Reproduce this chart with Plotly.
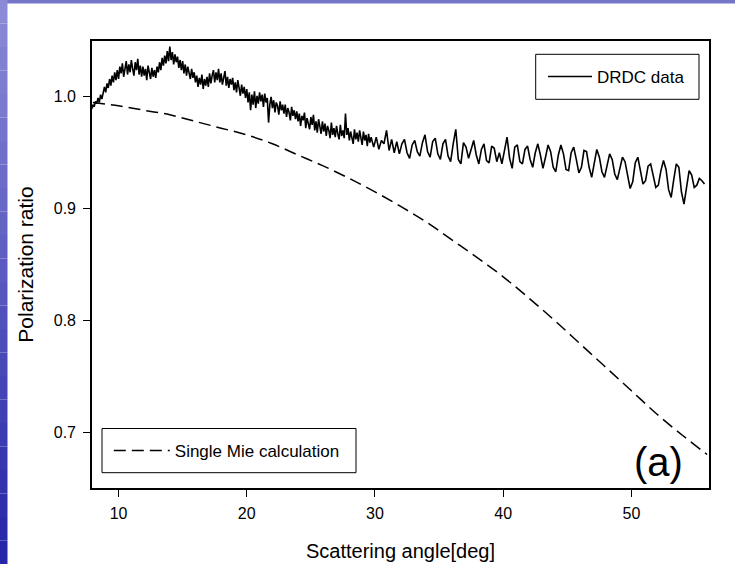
import plotly.graph_objects as go

# ---------------- data ----------------
# DRDC measurement, low-angle part (dense sampling)
drdc_angle_low = [
    7.9, 8.0, 8.1, 8.2, 8.3, 8.4, 8.5, 8.6, 8.7, 8.8,
    8.9, 9.0, 9.1, 9.2, 9.3, 9.4, 9.5, 9.6, 9.7, 9.8,
    9.9, 10.0, 10.1, 10.2, 10.3, 10.4, 10.5, 10.6, 10.7, 10.8,
    10.9, 11.0, 11.1, 11.2, 11.3, 11.4, 11.5, 11.6, 11.7, 11.8,
    11.9, 12.0, 12.1, 12.2, 12.3, 12.4, 12.5, 12.6, 12.7, 12.8,
    12.9, 13.0, 13.1, 13.2, 13.3, 13.4, 13.5, 13.6, 13.7, 13.8,
    13.9, 14.0, 14.1, 14.2, 14.3, 14.4, 14.5, 14.6, 14.7, 14.8,
    14.9, 15.0, 15.1, 15.2, 15.3, 15.4, 15.5, 15.6, 15.7, 15.8,
    15.9, 16.0, 16.1, 16.2, 16.3, 16.4, 16.5, 16.6, 16.7, 16.8,
    16.9, 17.0, 17.1, 17.2, 17.3, 17.4, 17.5, 17.6, 17.7, 17.8,
    17.9, 18.0, 18.1, 18.2, 18.3, 18.4, 18.5, 18.6, 18.7, 18.8,
    18.9, 19.0, 19.1, 19.2, 19.3, 19.4, 19.5, 19.6, 19.7, 19.8,
    19.9, 20.0, 20.1, 20.2, 20.3, 20.4, 20.5, 20.6, 20.7, 20.8,
    20.9, 21.0, 21.1, 21.2, 21.3, 21.4, 21.5, 21.6, 21.7, 21.8,
    21.9, 22.0, 22.1, 22.2, 22.3, 22.4, 22.5, 22.6, 22.7, 22.8,
    22.9, 23.0, 23.1, 23.2, 23.3, 23.4, 23.5, 23.6, 23.7, 23.8,
    23.9, 24.0, 24.1, 24.2, 24.3, 24.4, 24.5, 24.6, 24.7, 24.8,
    24.9, 25.0, 25.1, 25.2, 25.3, 25.4, 25.5, 25.6, 25.7, 25.8,
    25.9, 26.0, 26.1, 26.2, 26.3, 26.4, 26.5, 26.6, 26.7, 26.8,
    26.9, 27.0, 27.1, 27.2, 27.3, 27.4, 27.5, 27.6, 27.7, 27.8,
    27.9, 28.0, 28.1, 28.2, 28.3, 28.4, 28.5, 28.6, 28.7, 28.8,
    28.9, 29.0, 29.1, 29.2, 29.3, 29.4, 29.5, 29.6, 29.7, 29.8,
]
drdc_ratio_low = [
    0.989, 0.993, 0.991, 0.996, 0.994, 0.999, 0.995, 1.002, 0.998, 1.004,
    1.009, 1.004, 1.012, 1.008, 1.016, 1.010, 1.019, 1.013, 1.022, 1.015,
    1.024, 1.016, 1.027, 1.021, 1.030, 1.018, 1.026, 1.032, 1.020, 1.029,
    1.022, 1.033, 1.025, 1.019, 1.031, 1.024, 1.034, 1.020, 1.028, 1.018,
    1.027, 1.019, 1.025, 1.015, 1.028, 1.021, 1.016, 1.026, 1.018, 1.024,
    1.017, 1.027, 1.022, 1.031, 1.024, 1.035, 1.028, 1.037, 1.030, 1.041,
    1.032, 1.045, 1.033, 1.040, 1.029, 1.038, 1.031, 1.036, 1.026, 1.033,
    1.024, 1.032, 1.021, 1.029, 1.019, 1.027, 1.022, 1.016, 1.025, 1.017,
    1.022, 1.013, 1.019, 1.009, 1.017, 1.011, 1.020, 1.007, 1.016, 1.010,
    1.018, 1.009, 1.021, 1.012, 1.019, 1.024, 1.013, 1.022, 1.015, 1.025,
    1.013, 1.021, 1.011, 1.019, 1.023, 1.010, 1.018, 1.008, 1.016, 1.011,
    1.017, 1.006, 1.013, 1.004, 1.015, 1.008, 1.001, 1.011, 1.003, 1.009,
    0.999, 1.007, 0.995, 1.004, 0.988, 1.002, 0.993, 1.005, 0.990, 1.001,
    0.994, 1.004, 0.996, 1.002, 0.991, 1.003, 0.995, 0.999, 0.977, 0.993,
    1.000, 0.990, 0.997, 0.986, 0.995, 0.992, 0.984, 0.996, 0.988, 0.993,
    0.985, 0.993, 0.982, 0.990, 0.986, 0.979, 0.991, 0.983, 0.988, 0.980,
    0.987, 0.978, 0.985, 0.974, 0.983, 0.979, 0.986, 0.972, 0.981, 0.976,
    0.971, 0.982, 0.975, 0.984, 0.970, 0.978, 0.968, 0.980, 0.973, 0.967,
    0.978, 0.969, 0.976, 0.965, 0.974, 0.970, 0.963, 0.977, 0.966, 0.972,
    0.964, 0.974, 0.967, 0.962, 0.975, 0.965, 0.970, 0.963, 0.985, 0.966,
    0.972, 0.961, 0.969, 0.964, 0.958, 0.971, 0.962, 0.968, 0.960, 0.970,
    0.963, 0.957, 0.969, 0.961, 0.966, 0.956, 0.967, 0.959, 0.964, 0.958,
]

# DRDC measurement, high-angle part (oscillating)
drdc_angle_high = [
    29.9, 30.1, 30.3, 30.5, 30.7, 30.9, 31.1, 31.3, 31.5, 31.7,
    31.9, 32.1, 32.3, 32.5, 32.7, 32.9, 33.1, 33.3, 33.5, 33.7,
    33.9, 34.1, 34.3, 34.5, 34.7, 34.9, 35.1, 35.3, 35.5, 35.7,
    35.9, 36.1, 36.3, 36.5, 36.7, 36.9, 37.1, 37.3, 37.5, 37.7,
    37.9, 38.1, 38.3, 38.5, 38.7, 38.9, 39.1, 39.3, 39.5, 39.7,
    39.9, 40.1, 40.3, 40.5, 40.7, 40.9, 41.1, 41.3, 41.5, 41.7,
    41.9, 42.1, 42.3, 42.5, 42.7, 42.9, 43.1, 43.3, 43.5, 43.7,
    43.9, 44.1, 44.3, 44.5, 44.7, 44.9, 45.1, 45.3, 45.5, 45.7,
    45.9, 46.1, 46.3, 46.5, 46.7, 46.9, 47.1, 47.3, 47.5, 47.7,
    47.9, 48.1, 48.3, 48.5, 48.7, 48.9, 49.1, 49.3, 49.5, 49.7,
    49.9, 50.1, 50.3, 50.5, 50.7, 50.9, 51.1, 51.3, 51.5, 51.7,
    51.9, 52.1, 52.3, 52.5, 52.7, 52.9, 53.1, 53.3, 53.5, 53.7,
    53.9, 54.1, 54.3, 54.5, 54.7, 54.9, 55.1, 55.3, 55.5, 55.7,
]
drdc_ratio_high = [
    0.955, 0.964, 0.953, 0.961, 0.958, 0.970, 0.952, 0.962, 0.950, 0.960,
    0.949, 0.958, 0.962, 0.950, 0.945, 0.957, 0.961, 0.951, 0.947, 0.959,
    0.966, 0.951, 0.946, 0.960, 0.963, 0.949, 0.944, 0.958, 0.962, 0.947,
    0.942, 0.958, 0.971, 0.944, 0.940, 0.959, 0.955, 0.945, 0.952, 0.961,
    0.948, 0.940, 0.953, 0.958, 0.943, 0.941, 0.956, 0.954, 0.942, 0.950,
    0.940, 0.952, 0.964, 0.945, 0.936, 0.955, 0.957, 0.942, 0.940, 0.953,
    0.956, 0.944, 0.937, 0.950, 0.958, 0.948, 0.936, 0.946, 0.957, 0.951,
    0.937, 0.933, 0.948, 0.957, 0.949, 0.935, 0.934, 0.950, 0.955, 0.944,
    0.932, 0.937, 0.952, 0.951, 0.937, 0.928, 0.941, 0.953, 0.946, 0.933,
    0.928, 0.940, 0.949, 0.944, 0.931, 0.926, 0.937, 0.946, 0.942, 0.930,
    0.918, 0.924, 0.941, 0.946, 0.935, 0.922, 0.925, 0.938, 0.940, 0.929,
    0.919, 0.921, 0.934, 0.943, 0.935, 0.917, 0.910, 0.926, 0.940, 0.937,
    0.915, 0.904, 0.918, 0.934, 0.930, 0.919, 0.921, 0.927, 0.925, 0.922,
]

# Single Mie calculation
mie_angle = [8, 10, 12, 14, 16, 18, 20, 22, 24, 26, 28, 30, 32, 34, 36,
             38, 40, 42, 44, 46, 48, 50, 52, 54, 55.9]
mie_ratio = [0.995, 0.992, 0.988, 0.984, 0.978, 0.972, 0.966, 0.958, 0.948,
             0.938, 0.927, 0.915, 0.902, 0.888, 0.872, 0.856, 0.839, 0.820,
             0.800, 0.779, 0.758, 0.737, 0.716, 0.697, 0.680]

x_ticks = [10, 20, 30, 40, 50]
y_ticks = [0.7, 0.8, 0.9, 1.0]

series_names = ["DRDC data", "Single Mie calculation"]
panel_label = "(a)"
x_title = "Scattering angle[deg]"
y_title = "Polarization ratio"

# ---------------- figure ----------------
FONT = "Liberation Sans, Arial, sans-serif"
W, H = 735, 564
ML, MR, MT, MB = 92, 26, 41, 76
PW, PH = W - ML - MR, H - MT - MB


def px_x(p):
    return (p - ML) / PW


def px_y(p):
    return (H - MB - p) / PH


fig = go.Figure()

fig.add_trace(go.Scatter(
    x=drdc_angle_low + drdc_angle_high, y=drdc_ratio_low + drdc_ratio_high,
    mode="lines", name=series_names[0],
    line=dict(color="black", width=1.6), legend="legend",
))
fig.add_trace(go.Scatter(
    x=mie_angle, y=mie_ratio, mode="lines", name=series_names[1],
    line=dict(color="black", width=1.5, dash="12px,6px", shape="spline"),
    legend="legend2",
))

shapes = []
# slide background: top band and left gradient stripe
shapes.append(dict(type="rect", xref="paper", yref="paper",
                   x0=px_x(0), x1=px_x(W), y0=px_y(3.5), y1=px_y(0),
                   line=dict(width=0), fillcolor="#7474c8", layer="below"))
n_seg = 24
c_top = (138, 138, 214)
c_bot = (38, 38, 168)
for i in range(n_seg):
    t = i / (n_seg - 1)
    c = tuple(int(round(c_top[k] + (c_bot[k] - c_top[k]) * t)) for k in range(3))
    y0 = H * i / n_seg
    y1 = H * (i + 1) / n_seg
    shapes.append(dict(type="rect", xref="paper", yref="paper",
                       x0=px_x(0), x1=px_x(7.5), y0=px_y(y1), y1=px_y(y0),
                       line=dict(width=0), fillcolor="rgb(%d,%d,%d)" % c,
                       layer="below"))
# legend boxes
shapes.append(dict(type="rect", xref="paper", yref="paper",
                   x0=px_x(535.7), x1=px_x(699), y0=px_y(99.3), y1=px_y(54.3),
                   line=dict(color="black", width=1), layer="above"))
shapes.append(dict(type="rect", xref="paper", yref="paper",
                   x0=px_x(102), x1=px_x(356), y0=px_y(472.7), y1=px_y(428.5),
                   line=dict(color="black", width=1), layer="above"))

axis_common = dict(
    showline=True, linecolor="black", linewidth=1.6, mirror=True,
    ticks="outside", ticklen=7, tickwidth=1.2, tickcolor="black",
    showgrid=False, zeroline=False, automargin=False,
    tickfont=dict(family=FONT, size=16, color="black"),
)

fig.update_layout(
    width=W, height=H,
    margin=dict(l=ML, r=MR, t=MT, b=MB),
    paper_bgcolor="white", plot_bgcolor="white",
    font=dict(family=FONT, color="black"),
    shapes=shapes,
    xaxis=dict(range=[7.93, 56.05], tickvals=x_ticks, ticklabelstandoff=3,
               title=dict(text=x_title, font=dict(family=FONT, size=20), standoff=23),
               **axis_common),
    yaxis=dict(range=[0.650, 1.050], tickvals=y_ticks, tickformat=".1f",
               ticklabelstandoff=4,
               title=dict(text=y_title, font=dict(family=FONT, size=21), standoff=14),
               **axis_common),
    legend=dict(x=px_x(543), y=px_y(77), xanchor="left", yanchor="middle",
                bgcolor="rgba(0,0,0,0)", borderwidth=0, itemwidth=44,
                font=dict(family=FONT, size=17, color="black")),
    legend2=dict(x=px_x(108.8), y=px_y(451), xanchor="left", yanchor="middle",
                 bgcolor="rgba(0,0,0,0)", borderwidth=0, itemwidth=56,
                 font=dict(family=FONT, size=17, color="black")),
    annotations=[dict(text=panel_label, xref="paper", yref="paper",
                      x=px_x(658), y=px_y(462), xanchor="center", yanchor="middle",
                      showarrow=False, font=dict(family=FONT, size=40, color="black"))],
    showlegend=True,
)

fig.write_html("out.html", config={"displayModeBar": False},
               post_script="document.body.style.margin='0px';document.body.style.overflow='hidden';")
